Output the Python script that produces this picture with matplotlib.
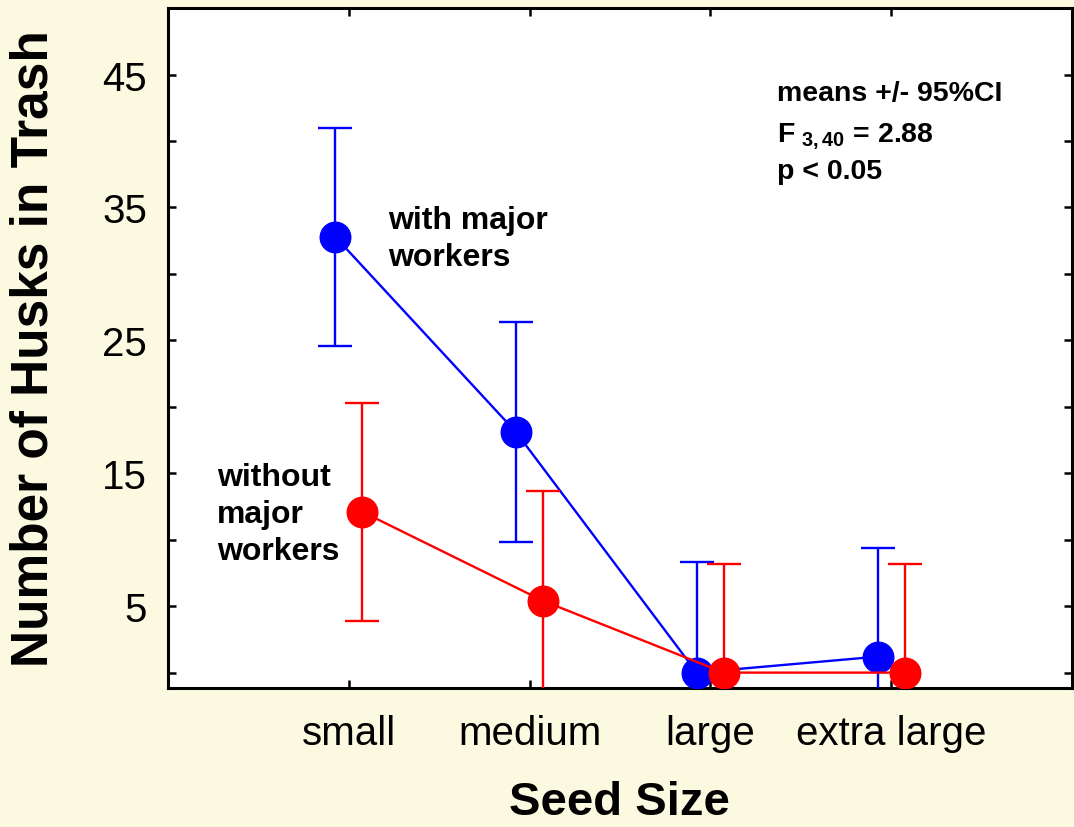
import numpy as np
import matplotlib
matplotlib.use("Agg")
import matplotlib.pyplot as plt

plt.rcParams['font.family'] = ['Liberation Sans', 'DejaVu Sans']
plt.rcParams['mathtext.fontset'] = 'custom'
plt.rcParams['mathtext.rm'] = 'Liberation Sans'
plt.rcParams['mathtext.bf'] = 'Liberation Sans:bold'

# data
categories = ['small', 'medium', 'large', 'extra large']
with_major = [32.8, 18.1, 0.0, 1.2]
with_major_ci = [8.2, 8.3, 8.3, 8.2]
without_major = [12.1, 5.4, 0.0, 0.0]
without_major_ci = [8.2, 8.3, 8.2, 8.2]
y_ticks = [0, 5, 10, 15, 20, 25, 30, 35, 40, 45]
y_ticklabels = ['', '5', '', '15', '', '25', '', '35', '', '45']

BG = '#FBF9E0'
OFFSET = 0.075

fig = plt.figure(figsize=(10.74, 8.28), dpi=100, facecolor=BG)
ax = fig.add_axes([0.1564, 0.168, 0.8416, 0.821])
ax.set_facecolor('white')

x = np.arange(len(categories))

ax.errorbar(x - OFFSET, with_major, yerr=with_major_ci, color='#0000FF',
            marker='o', markersize=22, linewidth=1.7, elinewidth=1.7,
            capsize=12, capthick=1.7, zorder=3)
ax.errorbar(x + OFFSET, without_major, yerr=without_major_ci, color='#FF0000',
            marker='o', markersize=22, linewidth=1.7, elinewidth=1.7,
            capsize=12, capthick=1.7, zorder=4)

ax.set_xlim(-1, 4)
ax.set_ylim(-1.15, 50)
ax.set_xticks(x)
ax.set_xticklabels(categories)
ax.set_yticks(y_ticks)
ax.set_yticklabels(y_ticklabels)

ax.tick_params(direction='in', top=True, right=True, length=6, width=1.8,
               labelsize=29, colors='black')
ax.tick_params(axis='x', pad=19)
ax.tick_params(axis='y', pad=15)
for s in ax.spines.values():
    s.set_linewidth(2.2)

ax.set_ylabel('Number of Husks in Trash', fontsize=37, fontweight='bold', va='center')
ax.yaxis.set_label_coords(-0.148, 0.5)
ax.set_xlabel('Seed Size', fontsize=34, fontweight='bold', va='center')
ax.xaxis.set_label_coords(0.5, -0.168)

# va='baseline' lines up the last line of a multi-line text
ax.text(0.215, 30.7, 'with major\nworkers', fontsize=23, fontweight='bold',
        ha='left', va='baseline', linespacing=1.3)
ax.text(-0.729, 8.53, 'without\nmajor\nworkers', fontsize=23, fontweight='bold',
        ha='left', va='baseline', linespacing=1.3)
ax.text(2.37, 43.1, 'means +/- 95%CI', fontsize=20.5, fontweight='bold',
        ha='left', va='baseline')
ax.text(2.37, 39.96, r'F$_{\mathbf{\ 3,40}}$ = 2.88', fontsize=20.5, fontweight='bold',
        ha='left', va='baseline')
ax.text(2.37, 37.25, 'p < 0.05', fontsize=20.5, fontweight='bold',
        ha='left', va='baseline')

fig.savefig('out.png', dpi=100, facecolor=BG)
